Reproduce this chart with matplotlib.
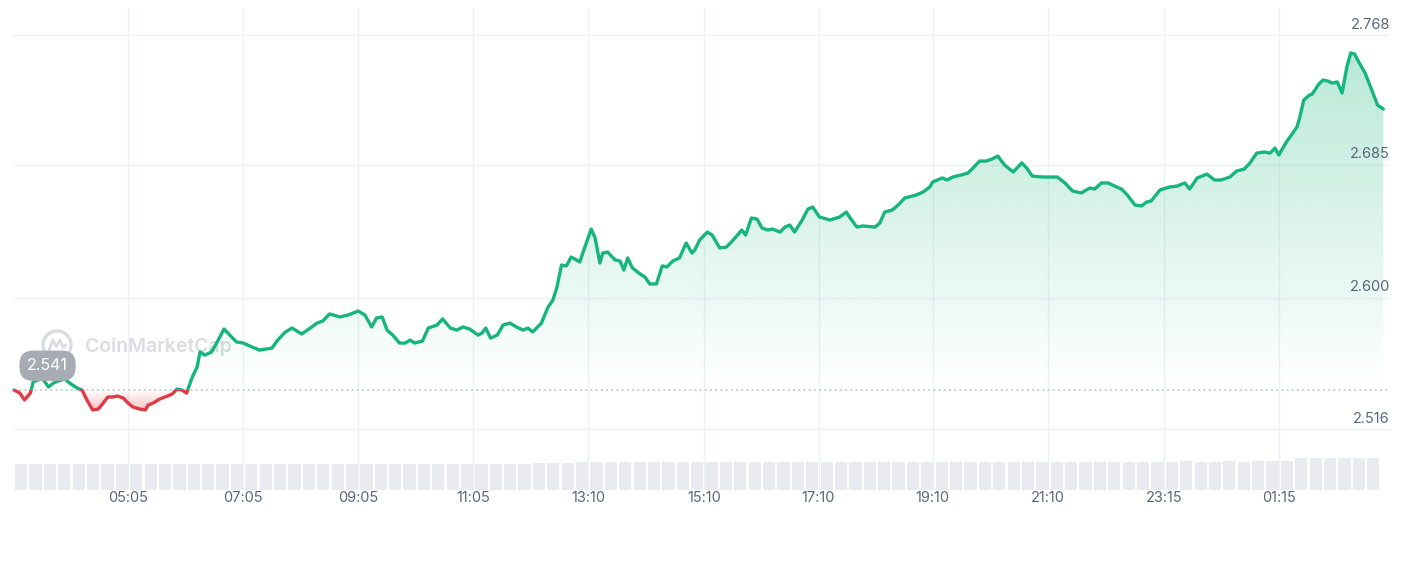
import numpy as np
import matplotlib
matplotlib.use("Agg")
import matplotlib.pyplot as plt
from matplotlib.path import Path
from matplotlib.patches import PathPatch, Rectangle, Ellipse
from matplotlib.colors import to_rgb

plt.rcParams['font.family'] = ['Inter', 'DejaVu Sans']

# ---- data (minutes since start of the 24h window, price in USD) ----
minutes = np.array([
    0, 6, 11, 17, 20, 25, 30, 36, 41, 46,
    53, 58, 66, 71, 76, 82, 88, 93, 98, 103,
    108, 114, 119, 124, 131, 137, 140, 145, 152, 160,
    165, 170, 175, 180, 186, 191, 194, 199, 206, 213,
    219, 225, 232, 239, 246, 256, 269, 275, 283, 290,
    300, 309, 316, 322, 329, 340, 348, 359, 366, 373,
    378, 384, 389, 395, 402, 408, 413, 418, 426, 432,
    441, 447, 455, 462, 468, 475, 484, 488, 492, 497,
    504, 510, 517, 524, 531, 536, 541, 550, 557, 562,
    566, 571, 576, 581, 585, 590, 595, 602, 606, 611,
    614, 619, 627, 632, 636, 640, 645, 653, 658, 663,
    670, 676, 681, 687, 694, 701, 707, 710, 715, 723,
    728, 736, 743, 750, 759, 763, 769, 775, 780, 786,
    791, 799, 804, 809, 814, 822, 828, 833, 840, 851,
    861, 868, 872, 879, 885, 898, 903, 908, 916, 922,
    929, 941, 948, 955, 958, 968, 973, 979, 988, 995,
    1000, 1007, 1014, 1020, 1026, 1033, 1042, 1051, 1056, 1062,
    1073, 1082, 1088, 1096, 1104, 1113, 1122, 1127, 1134, 1141,
    1150, 1155, 1161, 1169, 1176, 1181, 1186, 1195, 1205, 1213,
    1221, 1226, 1234, 1244, 1252, 1259, 1268, 1275, 1283, 1289,
    1296, 1304, 1310, 1315, 1319, 1327, 1338, 1341, 1345, 1351,
    1354, 1360, 1365, 1370, 1375, 1380, 1385, 1390, 1394, 1398,
    1403, 1409, 1416, 1422, 1428])

price = np.array([
    2.541, 2.539, 2.5346, 2.539, 2.5461, 2.5474, 2.548, 2.5429, 2.5454, 2.5467,
    2.548, 2.5454, 2.5422, 2.541, 2.5346, 2.5282, 2.5288, 2.5326, 2.5365, 2.5365,
    2.5371, 2.5358, 2.5326, 2.5301, 2.5288, 2.5282, 2.5314, 2.5326, 2.5352, 2.5371,
    2.5384, 2.5416, 2.541, 2.539, 2.5493, 2.5557, 2.5653, 2.5633, 2.5653, 2.5729,
    2.58, 2.5761, 2.5717, 2.571, 2.5691, 2.5665, 2.5678, 2.5729, 2.5781, 2.5806,
    2.5768, 2.5806, 2.5838, 2.5851, 2.5896, 2.5877, 2.5889, 2.5915, 2.5889, 2.5813,
    2.587, 2.5877, 2.5793, 2.5761, 2.571, 2.571, 2.5729, 2.571, 2.5723, 2.5806,
    2.5825, 2.5864, 2.5806, 2.5793, 2.5813, 2.58, 2.5761, 2.5774, 2.5806, 2.5742,
    2.5761, 2.5825, 2.5838, 2.5813, 2.5793, 2.5806, 2.5781, 2.5838, 2.5941, 2.5985,
    2.6062, 2.6209, 2.6203, 2.626, 2.6248, 2.6228, 2.6318, 2.6439, 2.6382, 2.6222,
    2.6286, 2.6292, 2.6241, 2.6235, 2.6177, 2.6254, 2.619, 2.6152, 2.6132, 2.6088,
    2.6088, 2.6203, 2.6197, 2.6235, 2.6254, 2.635, 2.6286, 2.6305, 2.6369, 2.642,
    2.6401, 2.6318, 2.6324, 2.6369, 2.6433, 2.6401, 2.651, 2.6503, 2.6446, 2.6433,
    2.6439, 2.642, 2.6452, 2.6465, 2.642, 2.6497, 2.6567, 2.658, 2.6516, 2.6497,
    2.6516, 2.6548, 2.651, 2.6452, 2.6459, 2.6452, 2.6478, 2.6548, 2.6561, 2.6593,
    2.6638, 2.6657, 2.6676, 2.6708, 2.674, 2.6766, 2.6753, 2.6772, 2.6785, 2.6798,
    2.683, 2.6874, 2.6874, 2.6887, 2.6906, 2.6849, 2.6804, 2.6862, 2.683, 2.6778,
    2.6772, 2.6772, 2.6772, 2.6734, 2.6682, 2.667, 2.6702, 2.6695, 2.6734, 2.6734,
    2.6708, 2.6695, 2.6657, 2.6593, 2.6587, 2.6612, 2.6619, 2.6689, 2.6708, 2.6714,
    2.6734, 2.6695, 2.6766, 2.6791, 2.6753, 2.6753, 2.6772, 2.681, 2.6823, 2.6862,
    2.6925, 2.6932, 2.6925, 2.6957, 2.6913, 2.6996, 2.7092, 2.7156, 2.7264, 2.7296,
    2.7303, 2.736, 2.7392, 2.7386, 2.7373, 2.738, 2.7309, 2.7475, 2.7565, 2.7559,
    2.7501, 2.7437, 2.7328, 2.7232, 2.7207])

open_price = 2.541
open_label = "2.541"

# volume (relative, 15-minute bins)
volume = np.array([
    5.1, 5.0, 5.1, 5.1, 5.0, 5.1, 5.1, 5.1, 5.0, 5.1,
    5.1, 5.1, 5.0, 5.1, 5.1, 5.0, 5.1, 5.1, 5.1, 5.0,
    5.1, 5.1, 5.0, 5.1, 5.1, 5.1, 5.0, 5.1, 5.1, 5.1,
    5.0, 5.1, 5.1, 5.1, 5.0, 5.1, 5.2, 5.2, 5.3, 5.5,
    5.5, 5.5, 5.4, 5.5, 5.5, 5.5, 5.4, 5.5, 5.5, 5.5,
    5.5, 5.4, 5.5, 5.5, 5.5, 5.5, 5.4, 5.5, 5.5, 5.5,
    5.5, 5.5, 5.4, 5.5, 5.5, 5.5, 5.5, 5.5, 5.4, 5.5,
    5.5, 5.5, 5.5, 5.4, 5.5, 5.5, 5.5, 5.5, 5.5, 5.5,
    5.5, 5.6, 5.5, 5.5, 5.6, 5.5, 5.6, 5.6, 5.7, 6.2,
    6.3, 6.3, 6.3, 6.3, 6.3])
vol_bin = 15

tick_pos = [119, 239, 359, 479, 599, 720, 839, 958, 1078, 1199, 1319]
tick_labels = ['05:05', '07:05', '09:05', '11:05', '13:10', '15:10',
               '17:10', '19:10', '21:10', '23:15', '01:15']
y_levels = [2.768, 2.685, 2.600, 2.516]
y_texts = ['2.768', '2.685', '2.600', '2.516']

GREEN = '#16b57c'
RED = '#e23a44'
GRID = '#eff2f5'
TXT = '#58667e'

# ---- figure ----
W, H = 1407, 587
fig = plt.figure(figsize=(W / 100, H / 100), dpi=100)
L = 14 / W
WD = (1390 - 14) / W
ax = fig.add_axes([L, (H - 445) / H, WD, (445 - 8) / H])
axv = fig.add_axes([L, (H - 490) / H, WD, (490 - 445) / H])

for a in (ax, axv):
    for s in a.spines.values():
        s.set_visible(False)
    a.set_facecolor('none')

x = minutes.astype(float)
y = price


def grad_fill(a, xs, ys, base, color, amax, above=True):
    if above:
        yy = np.maximum(ys, base)
        lo, hi = base, yy.max()
        alpha = np.linspace(0, amax, 256)
    else:
        yy = np.minimum(ys, base)
        lo, hi = yy.min(), base
        alpha = np.linspace(amax, 0, 256)
    img = np.zeros((256, 1, 4))
    img[..., :3] = to_rgb(color)
    img[:, 0, 3] = alpha
    verts = np.concatenate([np.column_stack([xs, yy]),
                            np.column_stack([xs[::-1], np.full(len(xs), base)])])
    patch = PathPatch(Path(verts), transform=a.transData, fc='none', ec='none')
    a.add_patch(patch)
    im = a.imshow(img, extent=[xs.min(), xs.max(), lo, hi], origin='lower',
                  aspect='auto', zorder=1, interpolation='bilinear')
    im.set_clip_path(patch)


# grid
for v in y_levels:
    ax.axhline(v, color=GRID, lw=1, zorder=0)
for t in tick_pos:
    ax.axvline(t, color=GRID, lw=1, zorder=0)
    axv.axvline(t, color=GRID, lw=1, zorder=0)

# watermark
ax.text((85 - 14) / 1376, (445 - 347) / 437, 'CoinMarketCap', transform=ax.transAxes,
        fontsize=14, fontweight='semibold', color='#d9dce2', ha='left', va='center', zorder=0.5)
cx, cy = (57 - 14) / 1376, (445 - 345) / 437
rx, ry = 14 / 1376, 14 / 437
ax.add_patch(Ellipse((cx, cy), 2 * rx, 2 * ry, transform=ax.transAxes, fc='none',
                     ec='#d9dce2', lw=2.4, zorder=0.5))
wx = np.array([-0.55, -0.3, -0.05, 0.2, 0.45, 0.6])
wy = np.array([-0.35, 0.35, -0.1, 0.35, -0.2, 0.0])
ax.plot(cx + wx * rx, cy + wy * ry, transform=ax.transAxes, color='#d9dce2', lw=2, zorder=0.5)

# gradient fills
grad_fill(ax, x, y, open_price, GREEN, 0.30, above=True)
grad_fill(ax, x, y, open_price, RED, 0.30, above=False)

# baseline
ax.axhline(open_price, color='#b9bfc8', lw=1.1, ls=(0, (1.2, 2.2)), zorder=2)

# line, coloured by side of the open price
lg, = ax.plot(x, y, color=GREEN, lw=2.4, zorder=3, solid_joinstyle='round', solid_capstyle='round')
lr, = ax.plot(x, y, color=RED, lw=2.4, zorder=3, solid_joinstyle='round', solid_capstyle='round')
lg.set_clip_path(Rectangle((-50, open_price), 3000, 5, transform=ax.transData))
lr.set_clip_path(Rectangle((-50, open_price - 5), 3000, 5, transform=ax.transData))

# price labels on the right
for v, t in zip(y_levels, y_texts):
    ax.annotate(t, xy=(1, v), xycoords=('axes fraction', 'data'), xytext=(0, 2.5),
                textcoords='offset points', ha='right', va='bottom', fontsize=10.5, color=TXT)

# open price badge
ax.text(35, open_price + 0.0155, open_label, ha='center', va='center', fontsize=11.5,
        color='white', zorder=5,
        bbox=dict(boxstyle='round,pad=0.48,rounding_size=0.85', fc='#a7acb4', ec='none'))

ax.set_xlim(0, 1435)
ax.set_ylim(2.5058, 2.7853)
ax.set_xticks([])
ax.set_yticks([])

# volume
vol_x = vol_bin * np.arange(len(volume)) + vol_bin / 2
axv.bar(vol_x, volume, width=vol_bin * 0.85, color='#e9ebf0', zorder=1)
axv.set_ylim(0, 8.8)
axv.set_yticks([])
axv.set_xticks(tick_pos)
axv.set_xticklabels(tick_labels)
axv.tick_params(axis='x', length=0, pad=1, labelsize=10.5, labelcolor=TXT)
axv.set_xlim(0, 1435)

fig.savefig('out.png', dpi=100, facecolor='white')
